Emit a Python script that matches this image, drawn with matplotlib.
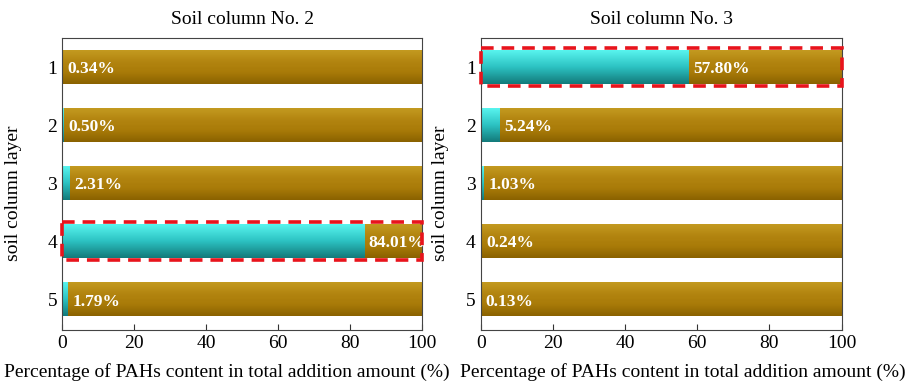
import numpy as np
import matplotlib.pyplot as plt
from matplotlib.colors import LinearSegmentedColormap
from matplotlib.patches import Rectangle

plt.rcParams['font.family'] = ['Liberation Serif', 'DejaVu Serif']

layers = [1, 2, 3, 4, 5]
col2_pct = [0.34, 0.50, 2.31, 84.01, 1.79]
col3_pct = [57.80, 5.24, 1.03, 0.24, 0.13]
titles = ['Soil column No. 2', 'Soil column No. 3']
highlight = [4, 1]   # layer boxed with red dashes in each panel

cyan_cmap = LinearSegmentedColormap.from_list('cy', ['#137a7a', '#2cc2c2', '#58f4ee'])
brown_cmap = LinearSegmentedColormap.from_list('br', ['#8a6200', '#a87a08', '#b38510', '#c39a20'])
grad = np.linspace(0, 1, 64).reshape(-1, 1)

fig = plt.figure(figsize=(9.07, 3.85), dpi=100)
ax1 = fig.add_axes([0.0684, 0.143, 0.397, 0.758])
ax2 = fig.add_axes([0.530, 0.143, 0.398, 0.758])

h = 0.58
for ax, pct, title, hl in zip([ax1, ax2], [col2_pct, col3_pct], titles, highlight):
    rest = [100 - p for p in pct]
    cy = ax.barh(layers, pct, height=h, color='none')
    br = ax.barh(layers, rest, left=pct, height=h, color='none')
    # vertical gradient fill for each segment
    for bars, cmap in [(cy, cyan_cmap), (br, brown_cmap)]:
        for b in bars:
            x0, y0 = b.get_x(), b.get_y()
            ax.imshow(grad, cmap=cmap, aspect='auto', origin='lower',
                      extent=(x0, x0 + b.get_width(), y0 + b.get_height(), y0),
                      zorder=2)
    for y, p in zip(layers, pct):
        ax.text(p + 1.2, y + 0.04, f'{p:.2f}%', color='white', fontweight='bold',
                fontsize=12.5, va='center', ha='left', zorder=4)
    ax.add_patch(Rectangle((0, hl - 0.33), 100, 0.66, fill=False, edgecolor='#e8141c',
                           linestyle=(0, (3.5, 2.2)), linewidth=2.6, zorder=5, clip_on=False))

    ax.set_xlim(0, 100)
    ax.set_ylim(5.53, 0.5)
    ax.set_yticks(layers)
    ax.set_xticks([0, 20, 40, 60, 80, 100])
    ax.tick_params(direction='in', labelsize=14, length=4, color='#333333')
    ax.set_title(title, fontsize=14, pad=10)
    ax.set_xlabel('Percentage of PAHs content in total addition amount (%)', fontsize=14)
    ax.set_ylabel('soil column layer', fontsize=14)
    for s in ax.spines.values():
        s.set_color('#444444')

ax1.xaxis.set_label_coords(0.458, -0.115)
ax2.xaxis.set_label_coords(0.56, -0.115)
ax1.yaxis.set_label_coords(-0.111, 0.47)
ax2.yaxis.set_label_coords(-0.089, 0.47)

fig.savefig('out.png', dpi=100)
